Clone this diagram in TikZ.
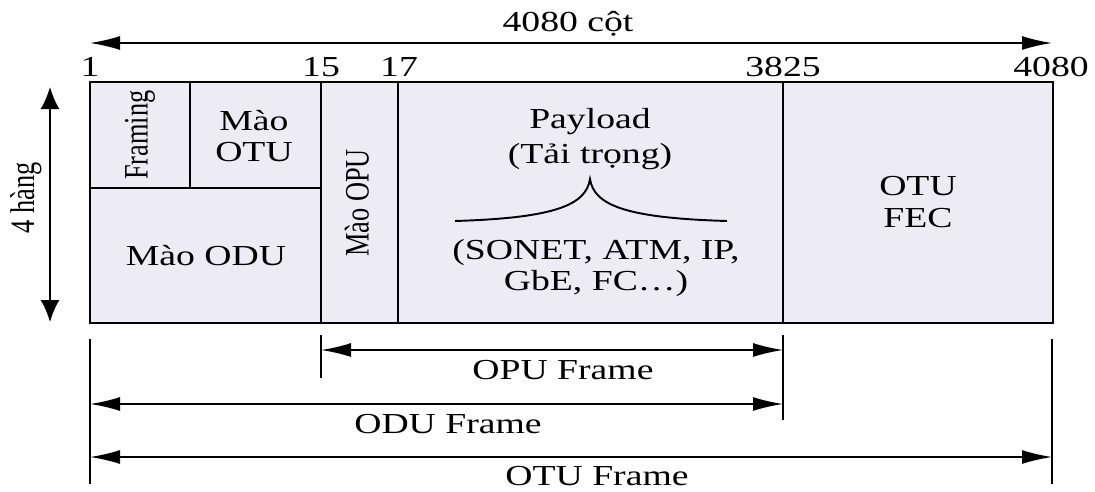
\documentclass[tikz,border=0pt]{standalone}
\usepackage{fontspec}
\setmainfont[FakeStretch=1.3]{Liberation Serif}
\newfontfamily\uprightfont{Liberation Serif}
\usetikzlibrary{arrows.meta,positioning}
\definecolor{framefill}{RGB}{237,235,243}
\newcommand\widetext[1]{\scalebox{1}[1.3]{#1}}

\begin{document}
\begin{tikzpicture}[x=0.2mm,y=-0.2mm,font=\fontsize{16.5}{18}\selectfont,
   wall/.style={line width=1.3pt},
   lbl/.style={align=center,inner sep=0pt},
   vlbl/.style={lbl,rotate=90,font=\uprightfont\fontsize{15}{18}\selectfont},
   harr/.style={{Latex[length=6mm,width=2.8mm]}-{Latex[length=6mm,width=2.8mm]},line width=1pt},
   varr/.style={{Latex[length=4.4mm,width=3.8mm]}-{Latex[length=4.4mm,width=3.8mm]},line width=1pt}]
  \useasboundingbox (0,0) rectangle (1095,491);

  % frame outline and columns
  \coordinate (nw) at (90,82);
  \coordinate (se) at (1053,323);
  \fill[framefill] (nw) rectangle (se);
  \draw[wall] (nw) rectangle (se);
  \draw[wall] (190,82) -- (190,188);
  \draw[wall] (90,188) -- (321,188);
  \draw[wall] (321,82) -- (321,323);
  \draw[wall] (398,82) -- (398,323);
  \draw[wall] (783,82) -- (783,323);

  % column numbers
  \node[anchor=base] (n1) at (90,76) {1};
  \node[anchor=base] (n15) at (321,76) {15};
  \node[anchor=base] (n17) at (399,76) {17};
  \node[anchor=base] (n3825) at (783,76) {3825};
  \node[anchor=base] (n4080) at (1051,76) {4080};

  % sizes
  \coordinate (colL) at (90,43);
  \coordinate (colR) at (1052,43);
  \draw[harr] (colL) -- (colR);
  \node[anchor=base] (cols) at (568,31) {4080 cột};
  \coordinate (rowT) at (50,87);
  \coordinate (rowB) at (50,322);
  \draw[varr] (rowT) -- (rowB);
  \node[vlbl] (rows) at (26,198) {\widetext{4 hàng}};

  % fields
  \node[vlbl] (framing) at (140,135) {\widetext{Framing}};
  \node[lbl] (otuoh) at (254,136) {Mào\\OTU};
  \node[lbl] (oduoh) at (206,256) {Mào ODU};
  \node[vlbl] (opuoh) at (357,203) {\widetext{Mào OPU}};
  \node[lbl,font=\fontsize{16.5}{20}\selectfont] (payload) at (590,139) {Payload\\(Tải trọng)};
  \node[lbl,font=\fontsize{16.5}{17.5}\selectfont] (clients) at (596,268) {(SONET, ATM, IP,\\GbE, FC\ldots)};
  \node[lbl] (fec) at (918,202) {OTU\\FEC};
  \draw[line width=1.1pt] (455,221) .. controls (555,218) and (586,205) .. (590,179)
                          .. controls (594,205) and (625,218) .. (727,221);

  % frame spans
  \draw[wall] (90,339) -- (90,484);
  \draw[wall] (321,335) -- (321,378);
  \draw[wall] (783,335) -- (783,420);
  \draw[wall] (1052,339) -- (1052,484);
  \coordinate (opuL) at (321,350);
  \coordinate (opuR) at (783,350);
  \draw[harr] (opuL) -- (opuR);
  \node[anchor=base] (opu) at (563,379) {OPU Frame};
  \coordinate (oduL) at (90,404);
  \coordinate (oduR) at (783,404);
  \draw[harr] (oduL) -- (oduR);
  \node[anchor=base] (odu) at (448,433) {ODU Frame};
  \coordinate (otuL) at (90,457);
  \coordinate (otuR) at (1052,457);
  \draw[harr] (otuL) -- (otuR);
  \node[anchor=base] (otu) at (597,485) {OTU Frame};
\end{tikzpicture}
\end{document}
